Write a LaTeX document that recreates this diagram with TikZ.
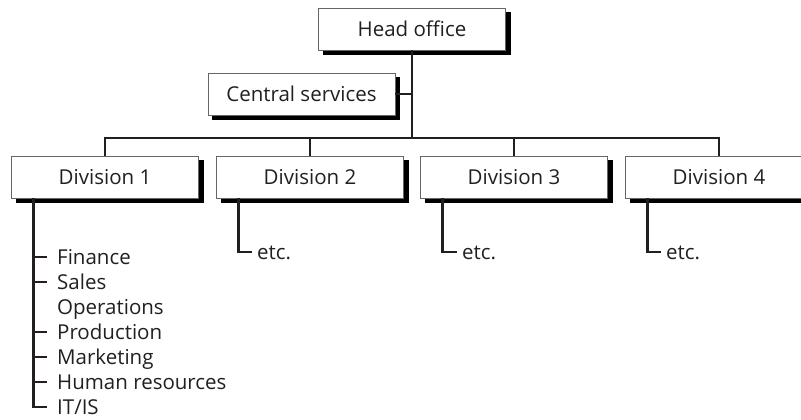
\documentclass[tikz,border=0pt]{standalone}
\usepackage{fontspec}
\setmainfont{Open Sans}
\definecolor{ink}{RGB}{35,31,32}

\begin{document}
\begin{tikzpicture}[x=1pt,y=1pt,
  back/.style={fill=black,draw=black,line width=0.8pt,minimum width=187pt,minimum height=42pt},
  box/.style={draw=black!60,line width=0.8pt,fill=white,minimum width=187pt,minimum height=42pt},
  item/.style={anchor=west,inner sep=0pt,text height=14.6pt,text depth=0pt},
  link/.style={line width=2.4pt,draw=ink},
  every node/.style={font=\fontsize{20.5}{24}\selectfont,text=ink}]
\useasboundingbox (0,0) rectangle (801,-420);
% shadows first, boxes on top
\path (416.5,-33.5) node[back](HeadOfficeBack){} (306,-98.5) node[back](CentralServicesBack){}
 (109.5,-181.5) node[back](Division1Back){} (314.5,-181.5) node[back](Division2Back){}
 (518.5,-181.5) node[back](Division3Back){} (723.5,-181.5) node[back](Division4Back){};
\path (412,-29) node[box](HeadOffice){Head office} (301.5,-94) node[box](CentralServices){Central services}
 (105,-177) node[box](Division1){Division 1} (310,-177) node[box](Division2){Division 2}
 (514,-177) node[box](Division3){Division 3} (719,-177) node[box](Division4){Division 4};
\coordinate (Bus) at (412,-138);

\path (57,-257) node[item](Finance){Finance} (57,-282) node[item](Sales){Sales} (57,-307) node[item](Operations){Operations}
 (57,-332) node[item](Production){Production} (57,-357) node[item](Marketing){Marketing}
 (57,-382) node[item](HumanResources){Human resources} (57,-407) node[item](ITIS){IT/IS};
\path (257,-252) node[item](Etc2){etc.} (462,-252) node[item](Etc3){etc.} (666,-252) node[item](Etc4){etc.};

\draw[link] (HeadOffice.south) -- (Bus);
\draw[link] (CentralServices.east) -- (CentralServices.east -| Bus);
\draw[link] (Division1.north) |- (Bus) -| (Division4.north);
\draw[link] (Division2.north) -- (Division2.north |- Bus);
\draw[link] (Division3.north) -- (Division3.north |- Bus);

\draw[link] ([xshift=22.5pt]Division1.south west) |- ([xshift=-10pt]ITIS.west);
\draw[link] ([xshift=-23pt]Finance.west) -- ([xshift=-10pt]Finance.west);
\draw[link] ([xshift=-23pt]Sales.west) -- ([xshift=-10pt]Sales.west);
\draw[link] ([xshift=-23pt]Production.west) -- ([xshift=-10pt]Production.west);
\draw[link] ([xshift=-23pt]Marketing.west) -- ([xshift=-10pt]Marketing.west);
\draw[link] ([xshift=-23pt]HumanResources.west) -- ([xshift=-10pt]HumanResources.west);

\draw[link] ([xshift=22.5pt]Division2.south west) |- ([xshift=-5pt]Etc2.west);
\draw[link] ([xshift=22.5pt]Division3.south west) |- ([xshift=-5pt]Etc3.west);
\draw[link] ([xshift=22.5pt]Division4.south west) |- ([xshift=-5pt]Etc4.west);
\end{tikzpicture}
\end{document}
